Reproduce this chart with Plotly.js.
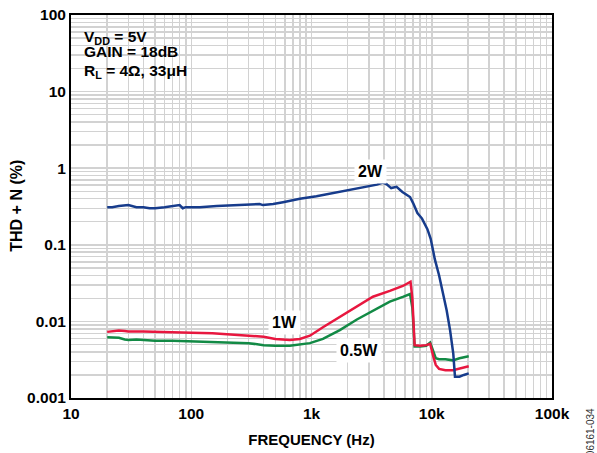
<!DOCTYPE html>
<html>
<head>
<meta charset="utf-8">
<script src="https://cdn.plot.ly/plotly-3.0.1.min.js"></script>
<style>
  html, body { margin: 0; padding: 0; background: #fff; }
  #chart { width: 597px; height: 453px; }
</style>
</head>
<body>
<div id="chart"></div>
<script>
// THD+N versus frequency at three output power levels
const freq2W = [20,22,25,28,30,35,40,45,50,60,70,80,85,90,100,118,163,222,310,370,395,480,580,800,1100,1500,2100,2900,3500,3900,4200,4600,5100,5700,6600,7000,7600,8300,9200,9800,10600,11500,12400,13300,14200,14700,15100,15600,17000,18500,20300];
const thd2W  = [0.31,0.31,0.32,0.33,0.33,0.31,0.31,0.30,0.30,0.31,0.32,0.33,0.30,0.31,0.31,0.31,0.32,0.33,0.34,0.34,0.33,0.34,0.36,0.40,0.43,0.47,0.52,0.57,0.61,0.65,0.62,0.55,0.57,0.49,0.42,0.35,0.26,0.22,0.16,0.12,0.065,0.040,0.023,0.014,0.0077,0.0050,0.0038,0.0019,0.0019,0.0020,0.0021];

const freq1W = [20,23,25,28,30,40,50,70,100,150,200,300,400,500,660,800,970,1245,1720,2385,3240,4480,5750,6660,6900,7200,8000,9000,9700,10300,10800,11500,13000,15000,17000,20300];
const thd1W  = [0.0073,0.0074,0.0076,0.0075,0.0074,0.0074,0.0073,0.0073,0.0071,0.0070,0.0068,0.0066,0.0063,0.0059,0.0057,0.0059,0.0065,0.0084,0.0115,0.016,0.021,0.025,0.029,0.033,0.020,0.0049,0.0048,0.0049,0.0051,0.0035,0.0027,0.0024,0.0023,0.0023,0.0024,0.0026];

const freqHalfW = [20,23,25,28,30,35,40,50,70,100,150,200,300,400,500,660,800,970,1245,1720,2385,3240,4480,5750,6600,6900,7200,8000,9000,9700,10300,10800,11500,13000,15000,17000,20300];
const thdHalfW  = [0.0062,0.0062,0.0061,0.0058,0.0057,0.0058,0.0057,0.0056,0.0056,0.0055,0.0055,0.0054,0.0052,0.0049,0.0048,0.0048,0.0050,0.0052,0.0059,0.0077,0.0106,0.0139,0.0181,0.0209,0.0228,0.015,0.0047,0.0047,0.0048,0.0053,0.0040,0.0033,0.0032,0.0032,0.0031,0.0033,0.0035];

const xTickVals = [10,100,1000,10000,100000];
const xTickText = ['10','100','1k','10k','100k'];
const yTickVals = [0.001,0.01,0.1,1,10,100];
const yTickText = ['0.001','0.01','0.1','1','10','100'];

// minor gridlines at 2..9 of every decade
function minorVals(lo, hi) {
  const v = [];
  for (let d = lo; d < hi; d++) {
    for (let m = 2; m <= 9; m++) v.push(m * Math.pow(10, d));
  }
  return v;
}

const FONT = 'Liberation Sans, Arial, sans-serif';
const gridColor = '#d2d2d2';
const txt = (size) => ({ family: FONT, size: size, color: '#000' });

const traces = [
  { x: freqHalfW, y: thdHalfW, mode: 'lines', line: { color: '#128a45', width: 2.5 }, hoverinfo: 'skip' },
  { x: freq1W, y: thd1W, mode: 'lines', line: { color: '#e8173f', width: 2.5 }, hoverinfo: 'skip' },
  { x: freq2W, y: thd2W, mode: 'lines', line: { color: '#173c8c', width: 2.5 }, hoverinfo: 'skip' }
];

const layout = {
  width: 597, height: 453,
  margin: { l: 71, r: 45, t: 15, b: 55 },
  paper_bgcolor: '#fff', plot_bgcolor: '#fff',
  showlegend: false,
  font: txt(15),
  xaxis: {
    type: 'log', range: [1, 5],
    tickmode: 'array', tickvals: xTickVals, ticktext: xTickText,
    tickfont: { family: FONT, size: 15.5, color: '#000', weight: 'bold' },
    ticks: '', showgrid: true, gridcolor: gridColor, gridwidth: 1.5,
    minor: { tickmode: 'array', tickvals: minorVals(1, 5), showgrid: true, gridcolor: gridColor, gridwidth: 1.5, ticks: '' },
    showline: true, linecolor: '#000', linewidth: 2, mirror: true,
    zeroline: false,
    title: { text: '<b>FREQUENCY (Hz)</b>', font: txt(15), standoff: 14 }
  },
  yaxis: {
    type: 'log', range: [-3, 2],
    tickmode: 'array', tickvals: yTickVals, ticktext: yTickText,
    tickfont: { family: FONT, size: 15.5, color: '#000', weight: 'bold' },
    ticks: '', showgrid: true, gridcolor: gridColor, gridwidth: 1.5,
    minor: { tickmode: 'array', tickvals: minorVals(-3, 2), showgrid: true, gridcolor: gridColor, gridwidth: 1.5, ticks: '' },
    showline: true, linecolor: '#000', linewidth: 2, mirror: true,
    zeroline: false
  },
  shapes: [
    // white panel behind the test-condition notes
    { type: 'rect', xref: 'paper', yref: 'paper', x0: 0.003, x1: 0.26, y0: 0.83, y1: 0.996,
      fillcolor: '#fff', line: { width: 0 }, layer: 'between' }
  ],
  annotations: [
    { xref: 'paper', yref: 'paper', x: 0.0229, y: 0.9415, xanchor: 'left', yanchor: 'middle',
      showarrow: false, text: '<b>V<sub>DD</sub> = 5V</b>', font: txt(15.5) },
    { xref: 'paper', yref: 'paper', x: 0.0229, y: 0.9035, xanchor: 'left', yanchor: 'middle',
      showarrow: false, text: '<b>GAIN = 18dB</b>', font: txt(15.5) },
    { xref: 'paper', yref: 'paper', x: 0.0229, y: 0.8525, xanchor: 'left', yanchor: 'middle',
      showarrow: false, text: '<b>R<sub>L</sub> = 4Ω, 33μH</b>', font: txt(15.5) },
    { xref: 'x', yref: 'y', x: Math.log10(3120), y: Math.log10(0.918), text: '<b>2W</b>', showarrow: false, bgcolor: '#fff', borderpad: 3, font: txt(16) },
    { xref: 'x', yref: 'y', x: Math.log10(600), y: Math.log10(0.0098), text: '<b>1W</b>', showarrow: false, bgcolor: '#fff', borderpad: 3, font: txt(16) },
    { xref: 'x', yref: 'y', x: Math.log10(2480), y: Math.log10(0.0042), text: '<b>0.5W</b>', showarrow: false, bgcolor: '#fff', borderpad: 3, font: txt(16) },
    // vertical axis title
    { xref: 'paper', yref: 'paper', x: -0.1123, y: 0.502, xanchor: 'center', yanchor: 'middle',
      text: '<b>THD + N (%)</b>', textangle: -90, showarrow: false, font: txt(16) },
    // figure id
    { xref: 'paper', yref: 'paper', x: 1.08, y: -0.088, xanchor: 'center', yanchor: 'middle',
      text: '06161-034', textangle: -90, showarrow: false,
      font: { family: FONT, size: 10, color: '#333' } }
  ]
};

Plotly.newPlot('chart', traces, layout, { staticPlot: true, displayModeBar: false });
</script>
</body>
</html>
